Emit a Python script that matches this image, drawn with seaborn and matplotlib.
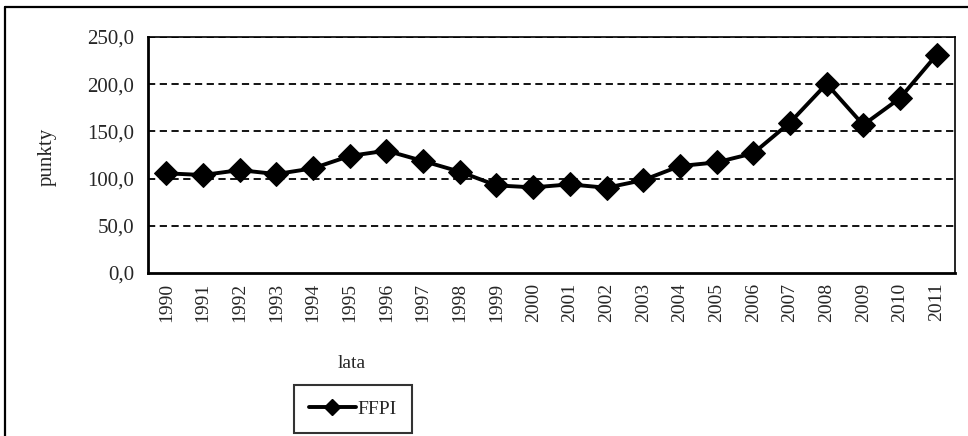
import matplotlib
matplotlib.use("Agg")
import matplotlib.pyplot as plt
import matplotlib.ticker as mticker
from matplotlib.lines import Line2D
import seaborn as sns
import pandas as pd

sns.set_theme(style="white")
plt.rcParams["font.family"] = ["Liberation Serif", "DejaVu Serif"]

# dane FFPI
years = [1990, 1991, 1992, 1993, 1994, 1995, 1996, 1997, 1998, 1999, 2000,
         2001, 2002, 2003, 2004, 2005, 2006, 2007, 2008, 2009, 2010, 2011]
ffpi = [105.6, 103.8, 109.0, 104.8, 110.9, 124.0, 129.6, 118.6, 107.3, 92.8, 90.7,
        93.9, 90.3, 98.4, 113.3, 117.2, 126.8, 159.3, 200.4, 156.9, 185.2, 231.2]
y_ticks = [0, 50, 100, 150, 200, 250]

W, H = 968, 436
fig = plt.figure(figsize=(W / 100, H / 100), dpi=100)
ax = fig.add_axes([148 / W, 1 - 273 / H, (955 - 148) / W, (273 - 37) / H])

df = pd.DataFrame({"pos": range(len(years)), "ffpi": ffpi})
sns.lineplot(data=df, x="pos", y="ffpi", ax=ax, color="black", linewidth=2.8,
             marker="D", markersize=12, markeredgecolor="black", legend=False, zorder=3)

ax.set_xlim(-0.5, len(years) - 0.5)
ax.set_ylim(0, 250)
ax.set_yticks(y_ticks)
ax.yaxis.set_major_formatter(mticker.FuncFormatter(lambda v, _: f"{v:.1f}".replace(".", ",")))
ax.set_xticks(range(len(years)))
ax.set_xticklabels([str(y) for y in years], rotation=90)
ax.set_xticks([i - 0.5 for i in range(len(years) + 1)], minor=True)
ax.tick_params(axis="x", which="major", length=0, pad=7, labelsize=14)
ax.tick_params(axis="x", which="minor", length=6, width=1.5, direction="out", color="black")
ax.tick_params(axis="y", length=6, width=1.5, direction="out", color="black", labelsize=15, pad=4)
ax.set_xlabel("")
ax.set_ylabel("")

for y in y_ticks[1:]:
    ax.axhline(y, color="black", linestyle=(0, (4, 2.5)), linewidth=1.3, zorder=1)

for side in ["left", "bottom"]:
    ax.spines[side].set_color("black")
    ax.spines[side].set_linewidth(2)
for side in ["top", "right"]:
    ax.spines[side].set_color("black")
    ax.spines[side].set_linewidth(1.2)

fig.text(47 / W, 1 - 157 / H, "punkty", rotation=90, ha="center", va="center", fontsize=15)
fig.text(352 / W, 1 - 363 / H, "lata", ha="center", va="center", fontsize=14)

handle = Line2D([], [], color="black", linewidth=2.8, marker="D", markersize=8)
leg = fig.legend([handle], ["FFPI"], loc="center", bbox_to_anchor=(353 / W, 1 - 409 / H),
                 fontsize=14, frameon=True, fancybox=False, handlelength=2.4,
                 borderpad=0.8, handletextpad=0.1, borderaxespad=0)
leg.get_frame().set_edgecolor("black")
leg.get_frame().set_linewidth(1.5)

# ramka wykresu
fig.add_artist(Line2D([5 / W, 5 / W], [0, 1 - 7 / H], color="black", linewidth=1.6))
fig.add_artist(Line2D([5 / W, 1], [1 - 7 / H, 1 - 7 / H], color="black", linewidth=1.6))

fig.savefig("out.png", dpi=100)
plt.close(fig)
